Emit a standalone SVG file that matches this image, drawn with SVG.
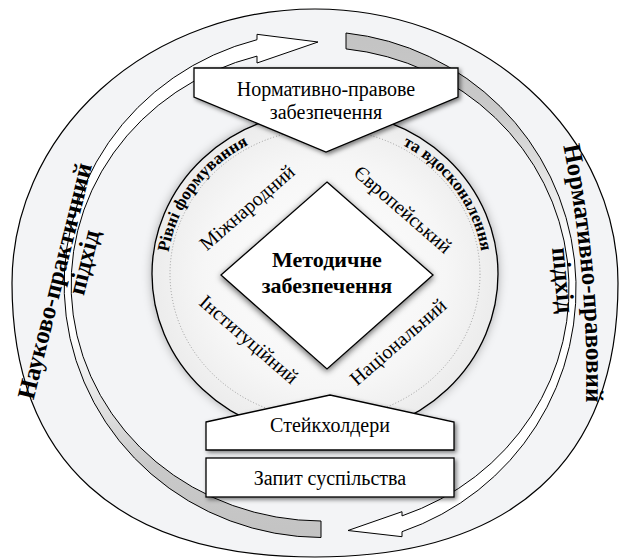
<svg xmlns="http://www.w3.org/2000/svg" width="619" height="559" viewBox="0 0 619 559" font-family="'Liberation Serif', 'Times New Roman', 'DejaVu Serif', serif">
<style>
text{font-family:'Liberation Serif','Times New Roman','DejaVu Serif',serif;fill:#000}
.b{font-weight:bold}
.ln{stroke:#000;stroke-width:1.2}
.box{fill:#fff;stroke:#000;stroke-width:1.3;filter:url(#shBox)}
</style>
<defs>
<filter id="shBox" x="-10%" y="-30%" width="130%" height="170%"><feDropShadow dx="2" dy="2" stdDeviation="2" flood-color="#000" flood-opacity="0.5"/></filter>
<filter id="shDia" x="-20%" y="-20%" width="140%" height="145%"><feDropShadow dx="0" dy="2" stdDeviation="3" flood-color="#000" flood-opacity="0.6"/></filter>
<filter id="shCirc" x="-15%" y="-15%" width="130%" height="130%"><feDropShadow dx="0" dy="0" stdDeviation="5" flood-color="#000" flood-opacity="0.3"/></filter>
<radialGradient id="gC" cx="50%" cy="50%" r="50%"><stop offset="0" stop-color="#ffffff"/><stop offset="0.7" stop-color="#f6f6f6"/><stop offset="1" stop-color="#ececec"/></radialGradient>
<linearGradient id="gL" gradientUnits="userSpaceOnUse" x1="0" y1="540" x2="0" y2="330"><stop offset="0" stop-color="#c3c3c3"/><stop offset="0.35" stop-color="#c9c9c9"/><stop offset="1" stop-color="#ffffff"/></linearGradient>
<linearGradient id="gR" gradientUnits="userSpaceOnUse" x1="0" y1="30" x2="0" y2="250"><stop offset="0" stop-color="#c3c3c3"/><stop offset="0.35" stop-color="#c9c9c9"/><stop offset="1" stop-color="#ffffff"/></linearGradient>
<path id="pC" d="M167,274 A158,148 0 0 1 483,274"/>
<path id="pR1" d="M553,100 A1181,1181 0 0 1 583.5,460"/>
</defs>

<g id="outer-ring">
<path d="M12,283 A303,274 0 0 1 618,283 C618,461 512,557 315,557 C118,557 12,461 12,283 Z" fill="#f3f4f6" class="ln"/>
</g>

<g id="connectors">
<path id="arrow-left" d="M321,537.5 A258,253 0 0 1 257,39.7 L257,34.3 L318,42 L257,63 L257,56.1 A251,236.5 0 0 0 321,521 Z" fill="url(#gL)" stroke="#000" stroke-width="1"/>
<path id="arrow-right" d="M346,33 A258,257.1 0 0 1 402,531.7 L402,536.7 L348,530.5 L402,511.7 L402,515.9 A251,241.2 0 0 0 346,48.9 Z" fill="url(#gR)" stroke="#000" stroke-width="1"/>
</g>

<g id="approach-left" class="b" font-size="25" text-anchor="middle">
<text transform="translate(55,281) rotate(-76)" y="8">Науково-практичний</text>
<text transform="translate(87,263) rotate(-76)" y="5">підхід</text>
</g>
<g id="approach-right" class="b" font-size="25" text-anchor="middle">
<text><textPath href="#pR1" startOffset="48.5%">Нормативно-правовий</textPath></text>
<text transform="translate(555,281) rotate(85)">підхід</text>
</g>

<g id="levels-circle">
<ellipse cx="325" cy="274" rx="173" ry="163" fill="url(#gC)" stroke="#000" stroke-width="1.3" filter="url(#shCirc)"/>
<ellipse cx="325" cy="274" rx="155" ry="145" fill="none" stroke="#8a8a8a" stroke-width="0.8" stroke-dasharray="1 2"/>
<text class="b" font-size="17"><textPath href="#pC" startOffset="19%" text-anchor="middle">Рівні формування</textPath></text>
<text class="b" font-size="17"><textPath href="#pC" startOffset="81%" text-anchor="middle">та вдосконалення</textPath></text>
</g>

<g id="level-labels" font-size="20" text-anchor="middle">
<text id="lvl-international" transform="translate(247.5,208) rotate(-41)" y="6">Міжнародний</text>
<text id="lvl-european" transform="translate(402.5,210) rotate(41)" y="6">Європейський</text>
<text id="lvl-institutional" transform="translate(248.5,340) rotate(41)" y="6">Інституційний</text>
<text id="lvl-national" transform="translate(398.5,342.5) rotate(-41)" y="6">Національний</text>
</g>

<g id="center-node">
<polygon points="327,182 433,275 327,369 221,275" fill="#fff" stroke="#000" stroke-width="1.3" filter="url(#shDia)"/>
<text class="b" font-size="22" text-anchor="middle" x="327" y="267">Методичне</text>
<text class="b" font-size="22" text-anchor="middle" x="327" y="293">забезпечення</text>
</g>

<g id="top-node">
<polygon class="box" points="194,68 458,68 458,97 326,152 194,97"/>
<text font-size="20" text-anchor="middle" x="326" y="96">Нормативно-правове</text>
<text font-size="20" text-anchor="middle" x="326" y="119">забезпечення</text>
</g>

<g id="stakeholders-node">
<polygon class="box" points="206,422 330,395 454,422 454,450 206,450"/>
<text font-size="20" text-anchor="middle" x="330" y="432">Стейкхолдери</text>
</g>

<g id="society-node">
<rect class="box" x="206" y="458" width="248" height="39"/>
<text font-size="20" text-anchor="middle" x="330" y="485">Запит суспільства</text>
</g>
</svg>
